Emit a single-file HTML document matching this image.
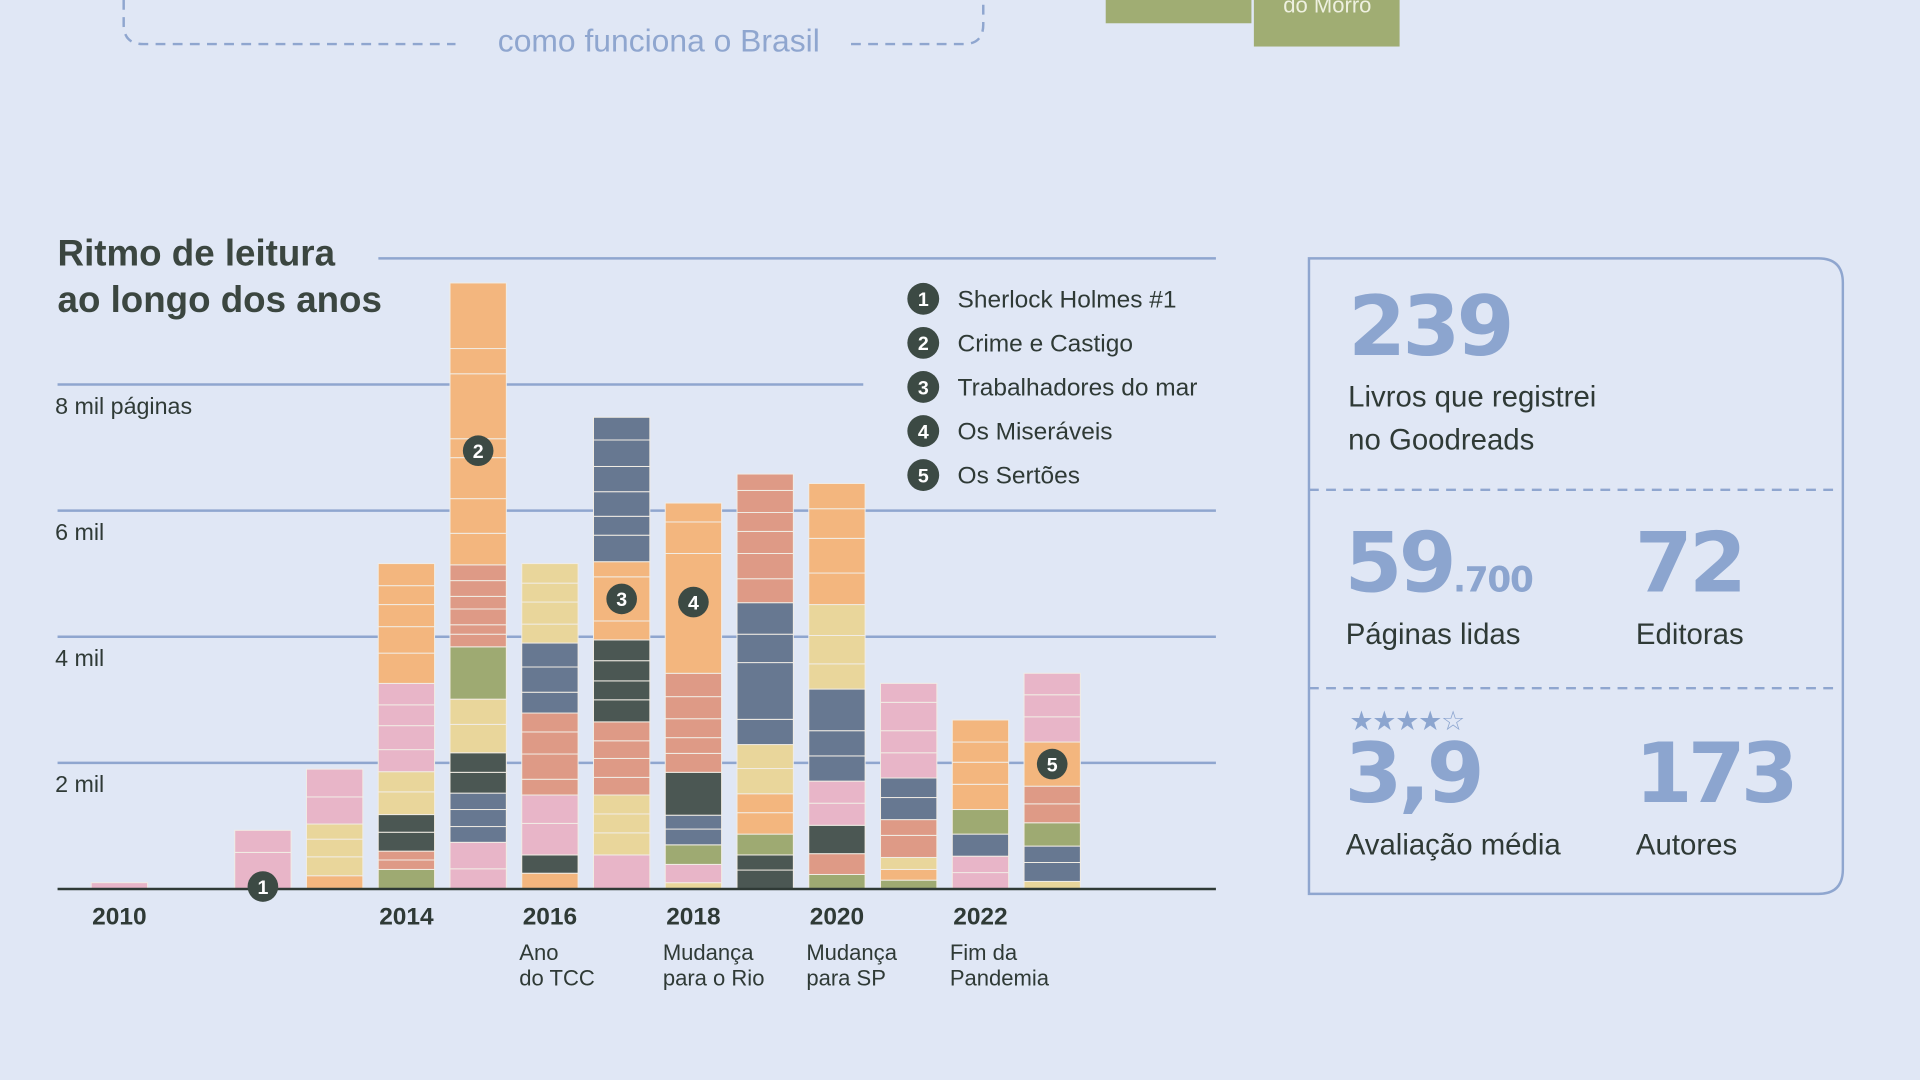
<!DOCTYPE html>
<html><head><meta charset="utf-8">
<style>
html,body{margin:0;padding:0;background:#e0e7f5;width:1920px;height:1080px;overflow:hidden}
svg{display:block}
text{font-family:"Liberation Sans",sans-serif}
</style></head>
<body>
<svg id="chart" width="1920" height="1080" viewBox="0 0 1568 882" xmlns="http://www.w3.org/2000/svg">
<rect x="0" y="0" width="1568" height="882" fill="#e0e7f5"/>
<path d="M101,0 V20 Q101,36 117,36 H372 M695,36 H787 Q803,36 803,20 V0" fill="none" stroke="#8fa6cf" stroke-width="2" stroke-dasharray="8,6"/>
<text x="538" y="42" text-anchor="middle" font-size="26" fill="#8fa6cf">como funciona o Brasil</text>
<rect x="903" y="0" width="119" height="19" fill="#a0ad73"/>
<rect x="1024" y="0" width="119" height="38" fill="#a0ad73"/>
<text x="1084" y="10" text-anchor="middle" font-size="18" fill="#eef0e0">do Morro</text>

<text x="47" y="217" font-size="30" font-weight="bold" fill="#3b4640"><tspan x="47" y="217">Ritmo de leitura</tspan><tspan x="47" y="255">ao longo dos anos</tspan></text>
<line x1="309" y1="211" x2="993" y2="211" stroke="#8fa6cf" stroke-width="2"/>

<g id="grid"></g>
<g id="bars"></g>
<g id="markers"></g>
<g id="xlabels"></g>
<g id="legend"></g>

<path d="M1069,211 H1485 Q1505,211 1505,231 V710 Q1505,730 1485,730 H1069 Z" fill="none" stroke="#8fa6cf" stroke-width="2"/>
<line x1="1069" y1="400" x2="1502" y2="400" stroke="#8fa6cf" stroke-width="2" stroke-dasharray="8,6"/>
<line x1="1069" y1="562" x2="1502" y2="562" stroke="#8fa6cf" stroke-width="2" stroke-dasharray="8,6"/>
<g font-weight="bold" fill="#8ca5cf">
<text x="1101" y="290" font-size="68" letter-spacing="-3" style="font-family:'DejaVu Sans',sans-serif">239</text>
<text x="1098" y="483" font-size="68" letter-spacing="-3" style="font-family:'DejaVu Sans',sans-serif">59<tspan font-size="28" letter-spacing="-1">.700</tspan></text>
<text x="1335" y="483" font-size="68" letter-spacing="-3" style="font-family:'DejaVu Sans',sans-serif">72</text>
<text x="1098" y="655" font-size="68" letter-spacing="-3" style="font-family:'DejaVu Sans',sans-serif">3,9</text>
<text x="1335" y="655" font-size="68" letter-spacing="-4" style="font-family:'DejaVu Sans',sans-serif">173</text>
</g>
<text x="1102" y="596" font-size="22" fill="#8ca5cf" letter-spacing="-1">★★★★☆</text>
<g font-size="24" fill="#2f3a36">
<text x="1101" y="332">Livros que  registrei</text>
<text x="1101" y="367">no Goodreads</text>
<text x="1099" y="526">Páginas lidas</text>
<text x="1336" y="526">Editoras</text>
<text x="1099" y="698">Avaliação média</text>
<text x="1336" y="698">Autores</text>
</g>
</svg>
<script>
const years = [2010,2011,2012,2013,2014,2015,2016,2017,2018,2019,2020,2021,2022,2023];
const books2010 = [["p",100]];
const books2011 = [];
const books2012 = [["p",580],["p",350]];
const books2013 = [["o",210],["y",300],["y",280],["y",240],["p",430],["p",440]];
const books2014 = [["g",310],["s",150],["s",140],["d",300],["d",280],["y",360],["y",320],["p",350],["p",380],["p",330],["p",340],["o",480],["o",420],["o",350],["o",300],["o",350]];
const books2015 = [["p",320],["p",420],["b",250],["b",270],["b",260],["d",330],["d",310],["y",450],["y",400],["g",830],["s",200],["s",150],["s",250],["s",200],["s",250],["s",250],["o",500],["o",550],["o",650],["o",300],["o",1030],["o",400],["o",1040]];
const books2016 = [["o",250],["d",290],["p",500],["p",450],["s",250],["s",400],["s",350],["s",300],["b",330],["b",400],["b",380],["y",300],["y",350],["y",300],["y",310]];
const books2017 = [["p",540],["y",350],["y",300],["y",300],["s",280],["s",300],["s",280],["s",300],["d",350],["d",300],["d",320],["d",330],["o",300],["o",700],["o",240],["b",420],["b",300],["b",390],["b",400],["b",420],["b",360]];
const books2018 = [["y",100],["p",290],["g",310],["b",250],["b",220],["d",680],["s",300],["s",250],["s",300],["s",350],["s",370],["o",1900],["o",500],["o",300]];
const books2019 = [["d",300],["d",240],["g",330],["o",340],["o",300],["y",400],["y",380],["b",400],["b",900],["b",450],["b",500],["s",380],["s",400],["s",350],["s",300],["s",350],["s",260]];
const books2020 = [["g",230],["s",330],["d",450],["p",350],["p",350],["b",400],["b",400],["b",660],["y",400],["y",450],["y",490],["o",500],["o",550],["o",470],["o",400]];
const books2021 = [["g",140],["o",170],["y",190],["s",350],["s",250],["b",350],["b",310],["p",400],["p",350],["p",450],["p",300]];
const books2022 = [["p",260],["p",260],["b",350],["g",390],["o",400],["o",350],["o",320],["o",350]];
const books2023 = [["y",120],["b",300],["b",260],["g",370],["s",300],["s",280],["o",700],["p",400],["p",350],["p",340]];
const booksByYear = [books2010,books2011,books2012,books2013,books2014,books2015,books2016,books2017,books2018,books2019,books2020,books2021,books2022,books2023];
const yTicks = [2000,4000,6000,8000];
const yTickLabels = ["2 mil","4 mil","6 mil","8 mil páginas"];
const xLabelYears = [2010,2014,2016,2018,2020,2022];
const xNotes = {2016:["Ano","do TCC"],2018:["Mudança","para o Rio"],2020:["Mudança","para SP"],2022:["Fim da","Pandemia"]};
const markerYears = [2012,2015,2017,2018,2023];
const markerValues = [0,6950,4600,4550,1980];
const legendNames = ["Sherlock Holmes #1","Crime e Castigo","Trabalhadores do mar","Os Miseráveis","Os Sertões"];

const colors = {o:"#f3b67e",s:"#de9a86",p:"#e8b5c8",y:"#e9d69b",g:"#9eaa72",b:"#677891",d:"#4b5753"};
const NS = "http://www.w3.org/2000/svg";
const baseY = 726, pxPer1000 = 51.5, x0 = 97.5, step = 58.6, barW = 46;
function yScale(v){ return baseY - v/1000*pxPer1000; }
function xScale(year){ return x0 + (year-2010)*step; }
function mk(tag, attrs, parent){ const e=document.createElementNS(NS,tag); for(const k in attrs) e.setAttribute(k,attrs[k]); parent.appendChild(e); return e; }

const grid = document.getElementById('grid');
yTicks.forEach((t,i)=>{
  const y = yScale(t);
  const x2 = t===8000 ? 705 : 993;
  const l = mk('line',{x1:47,y1:y,x2:x2,y2:y,stroke:'#8fa6cf','stroke-width':2},grid);
  
  
  const tx = mk('text',{x:45,y:y+24,'font-size':19,fill:'#2f3a36'},grid);
  tx.textContent = yTickLabels[i];
  
  
});

const bars = document.getElementById('bars');
years.forEach((yr,i)=>{
  let cum = 0;
  const cx = xScale(yr);
  booksByYear[i].forEach(([c,p])=>{
    const yTop = yScale(cum+p), yBot = yScale(cum);
    const r = mk('rect',{x:cx-barW/2,y:yTop,width:barW,height:Math.max(0,yBot-yTop),fill:colors[c],stroke:'#f1ece4','stroke-width':0.8},bars);
    
    
    cum += p;
  });
});
const axis = mk('line',{x1:47,y1:baseY,x2:993,y2:baseY,stroke:'#2f3a36','stroke-width':2},bars);



const markers = document.getElementById('markers');
markerYears.forEach((yr,i)=>{
  const cx = xScale(yr), cy = yScale(markerValues[i]) - (markerValues[i]===0? 2:0);
  const c = mk('circle',{cx:cx,cy:cy,r:12.5,fill:'#3c4a44'},markers);
  
  
  const t = mk('text',{x:cx,y:cy+6,'text-anchor':'middle','font-size':16,'font-weight':'bold',fill:'#fff'},markers);
  t.textContent = String(i+1);
  
  
});

const xl = document.getElementById('xlabels');
xLabelYears.forEach(yr=>{
  const t = mk('text',{x:xScale(yr),y:755,'text-anchor':'middle','font-size':20,'font-weight':'bold',fill:'#2f3a36'},xl);
  t.textContent = String(yr);
  
  
  if (xNotes[yr]) {
    xNotes[yr].forEach((line,j)=>{
      const n = mk('text',{x:xScale(yr)-25,y:784+j*21,'font-size':18,fill:'#2f3a36'},xl);
      n.textContent = line;
      
      
    });
  }
});

const lg = document.getElementById('legend');
legendNames.forEach((nm,i)=>{
  const cy = 244 + i*36;
  const c = mk('circle',{cx:754,cy:cy,r:13,fill:'#3c4a44'},lg);
  
  
  const n = mk('text',{x:754,y:cy+6,'text-anchor':'middle','font-size':16,'font-weight':'bold',fill:'#fff'},lg);
  n.textContent = String(i+1);
  
  
  const t = mk('text',{x:782,y:cy+7,'font-size':20,fill:'#2f3a36'},lg);
  t.textContent = nm;
  
  
});
</script>
</body></html>
